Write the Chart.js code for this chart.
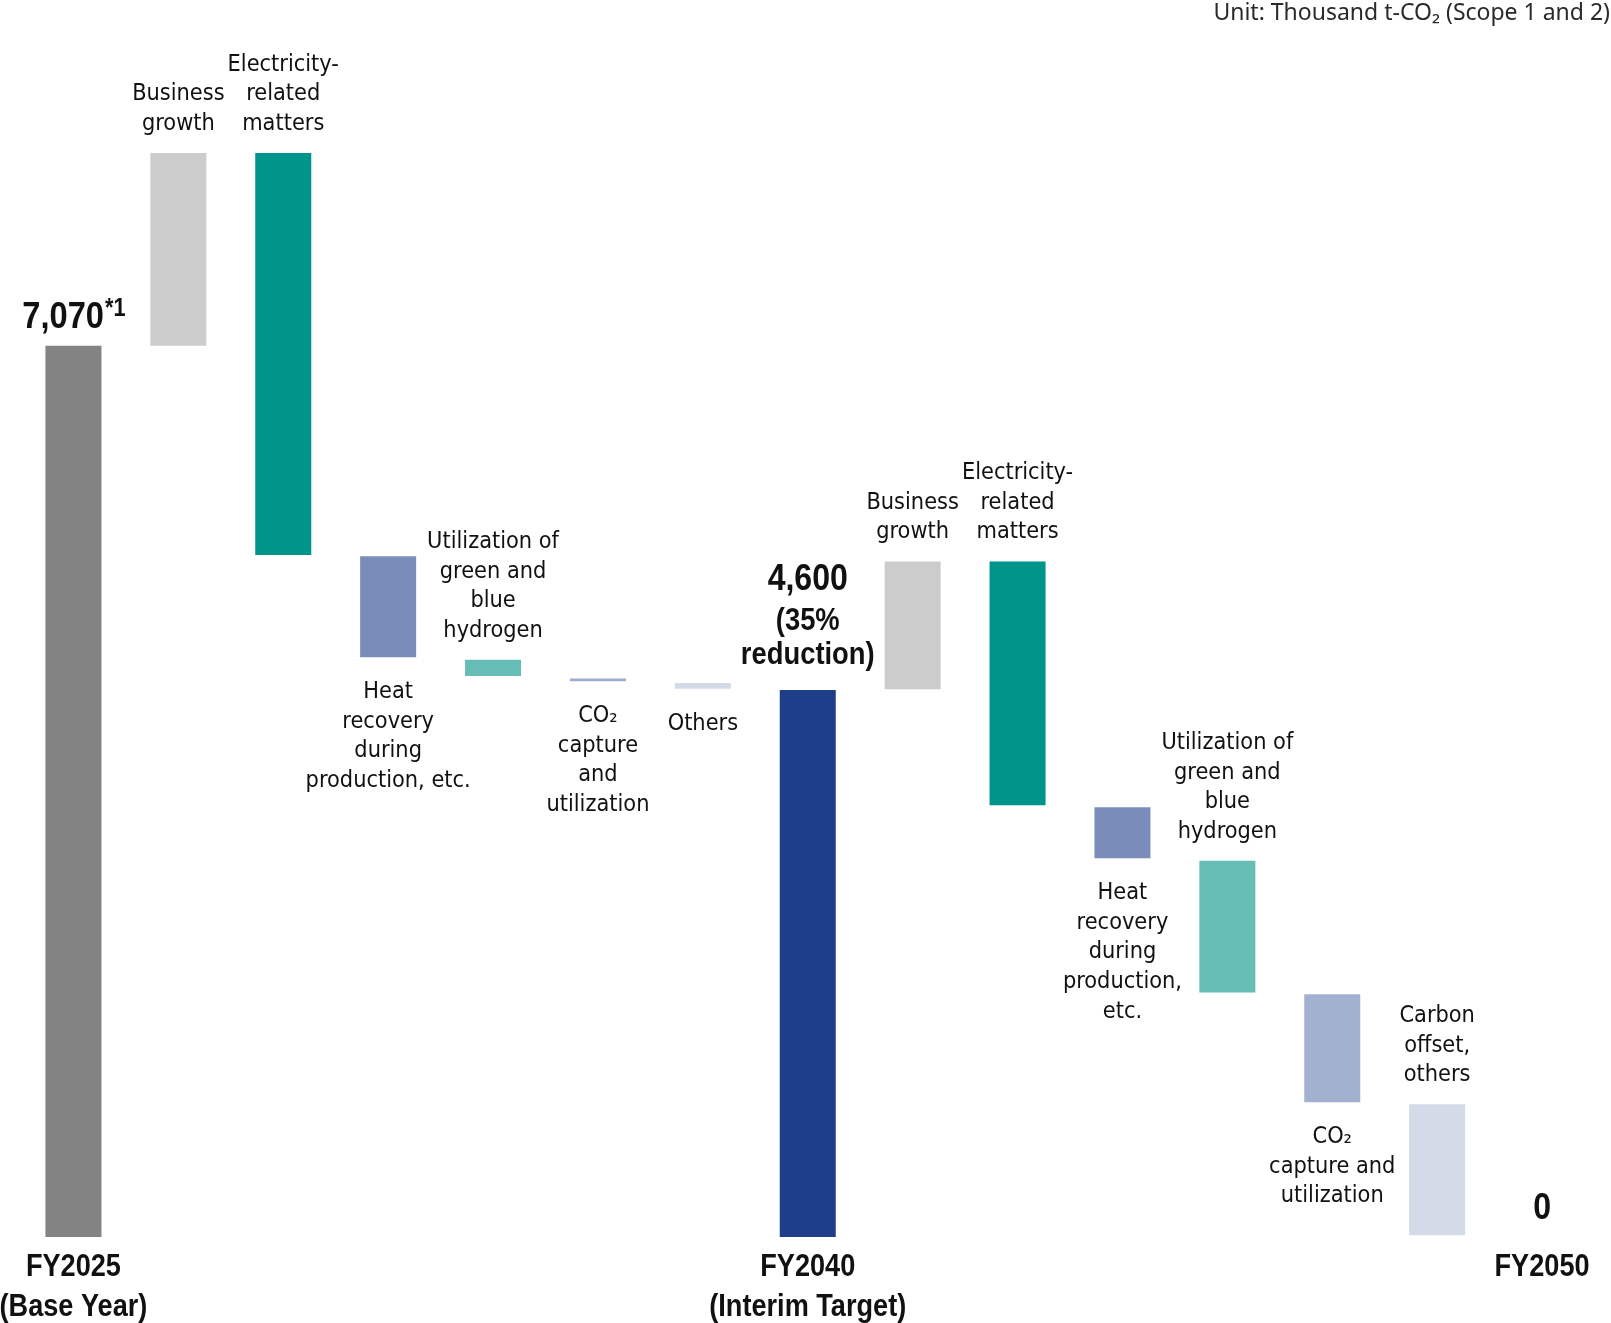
<!DOCTYPE html>
<html>
<head>
<meta charset="utf-8">
<script src="https://cdn.jsdelivr.net/npm/chart.js@4.4.1/dist/chart.umd.min.js"></script>
<style>
  html, body { margin: 0; padding: 0; background: #ffffff; }
  #wrap { width: 1611px; height: 1323px; position: relative; }
  canvas { display: block; }
</style>
</head>
<body>
<div id="wrap"><canvas id="c" width="1611" height="1323"></canvas></div>
<script>
// ---- Data (thousand t-CO2) ----
const categories = [
  'FY2025', 'Business growth', 'Electricity-related matters', 'Heat recovery during production, etc.',
  'Utilization of green and blue hydrogen', 'CO2 capture and utilization', 'Others',
  'FY2040', 'Business growth', 'Electricity-related matters', 'Heat recovery during production, etc.',
  'Utilization of green and blue hydrogen', 'CO2 capture and utilization', 'Carbon offset, others', 'FY2050'
];
// floating bar ranges: lower and upper ends
const barLow  = [0,    7070, 5410, 4600, 4450, 4410, 4350, 0,    4345, 3425, 3005, 1940, 1070, 13,   null];
const barHigh = [7070, 8600, 8600, 5400, 4580, 4430, 4395, 4340, 5360, 5360, 3410, 2985, 1925, 1053, null];

const barColors = ['#838383', '#cccccc', '#00958a', '#7a8cb9', '#66bdb6', '#9eabcc', '#d3dae8',
                   '#1f3e8a', '#cccccc', '#00958a', '#7a8cb9', '#66bdb6', '#a3b1d0', '#d3dae8', '#ffffff'];

const stepLabels = [
  null,
  ['Business', 'growth'],
  ['Electricity-', 'related', 'matters'],
  ['Heat', 'recovery', 'during', 'production, etc.'],
  ['Utilization of', 'green and', 'blue', 'hydrogen'],
  ['CO\u2082', 'capture', 'and', 'utilization'],
  ['Others'],
  null,
  ['Business', 'growth'],
  ['Electricity-', 'related', 'matters'],
  ['Heat', 'recovery', 'during', 'production,', 'etc.'],
  ['Utilization of', 'green and', 'blue', 'hydrogen'],
  ['CO\u2082', 'capture and', 'utilization'],
  ['Carbon', 'offset,', 'others'],
  null
];
const labelSide = ['', 'above', 'above', 'below', 'above', 'below', 'below', '',
                   'above', 'above', 'below', 'above', 'below', 'above', ''];

const totalIndex = [0, 7, 14];
const totalValues = [7070, 4600, 0];
const totalText = [['7,070'], ['4,600', '(35%', 'reduction)'], ['0']];
const axisLabels = [['FY2025', '(Base Year)'], ['FY2040', '(Interim Target)'], ['FY2050']];
const unitText = 'Unit: Thousand t-CO\u2082 (Scope 1 and 2)';

const REG = '"DejaVu Sans Condensed", "DejaVu Sans", sans-serif';
const BOLD = '"Liberation Sans", Arial, sans-serif';

function boldText(ctx, text, x, y, size, align, sx) {
  ctx.save();
  ctx.font = 'bold ' + size + 'px ' + BOLD;
  ctx.translate(x, y);
  ctx.scale(sx || 0.855, 1);
  ctx.textAlign = align || 'center';
  ctx.fillText(text, 0, 0);
  ctx.restore();
}
function boldWidth(ctx, text, size, sx) {
  ctx.save();
  ctx.font = 'bold ' + size + 'px ' + BOLD;
  const w = ctx.measureText(text).width * (sx || 0.855);
  ctx.restore();
  return w;
}

const labelPlugin = {
  id: 'labels',
  afterDatasetsDraw(chart) {
    const ctx = chart.ctx;
    const xs = chart.scales.x, ys = chart.scales.y;
    ctx.save();
    ctx.fillStyle = '#111111';
    ctx.textAlign = 'center';
    ctx.textBaseline = 'alphabetic';

    // step labels
    ctx.font = '23.3px ' + REG;
    stepLabels.forEach((lines, i) => {
      if (!lines) return;
      const cx = xs.getPixelForValue(i);
      const top = ys.getPixelForValue(barHigh[i]);
      const bot = ys.getPixelForValue(barLow[i]);
      const n = lines.length;
      lines.forEach((t, k) => {
        if (labelSide[i] === 'above') ctx.fillText(t, cx, top - 23 - (n - 1 - k) * 29.6);
        else ctx.fillText(t, cx, bot + 41 + k * 29.6);
      });
    });

    const zeroY = ys.getPixelForValue(0);
    // FY2025 total
    {
      const i = totalIndex[0];
      const cx = xs.getPixelForValue(i);
      const top = ys.getPixelForValue(barHigh[i]);
      const w1 = boldWidth(ctx, totalText[0][0], 37.5, 0.87);
      const w2 = boldWidth(ctx, '*1', 25, 0.87);
      const x0 = cx - (w1 + w2) / 2;
      boldText(ctx, totalText[0][0], x0, top - 17.5, 37.5, 'left', 0.87);
      boldText(ctx, '*1', x0 + w1 + 1, top - 30, 25, 'left', 0.87);
    }
    // FY2040 total
    {
      const i = totalIndex[1];
      const cx = xs.getPixelForValue(i);
      const top = ys.getPixelForValue(barHigh[i]);
      boldText(ctx, totalText[1][0], cx, top - 100, 37.5);
      boldText(ctx, totalText[1][1], cx, top - 59.5, 32);
      boldText(ctx, totalText[1][2], cx, top - 26, 32);
    }
    // FY2050 total
    {
      const i = totalIndex[2];
      const cx = xs.getPixelForValue(i);
      boldText(ctx, totalText[2][0], cx, ys.getPixelForValue(totalValues[2]) - 18.5, 37.5);
    }

    // axis labels
    totalIndex.forEach((i, k) => {
      const cx = xs.getPixelForValue(i);
      axisLabels[k].forEach((t, j) => boldText(ctx, t, cx, zeroY + 39 + j * 40, 31, 'center', 0.875));
    });

    // unit
    ctx.textAlign = 'right';
    ctx.fillStyle = '#2a2a2a';
    ctx.font = '23px "Noto Sans", "Open Sans", sans-serif';
    ctx.fillText(unitText, chart.width - 1, 20);
    ctx.restore();
  }
};

new Chart(document.getElementById('c'), {
  type: 'bar',
  data: {
    labels: categories,
    datasets: [{
      data: categories.map((_, i) => barLow[i] === null ? null : [barLow[i], barHigh[i]]),
      backgroundColor: barColors,
      borderWidth: 0,
      barPercentage: 0.534,
      categoryPercentage: 1.0
    }]
  },
  options: {
    responsive: false,
    animation: false,
    devicePixelRatio: 1,
    layout: { padding: { top: 153, bottom: 86, left: 21, right: 16.5 } },
    plugins: { legend: { display: false }, tooltip: { enabled: false } },
    scales: {
      x: { display: false },
      y: { display: false, min: 0, max: 8600 }
    }
  },
  plugins: [labelPlugin]
});
</script>
</body>
</html>
